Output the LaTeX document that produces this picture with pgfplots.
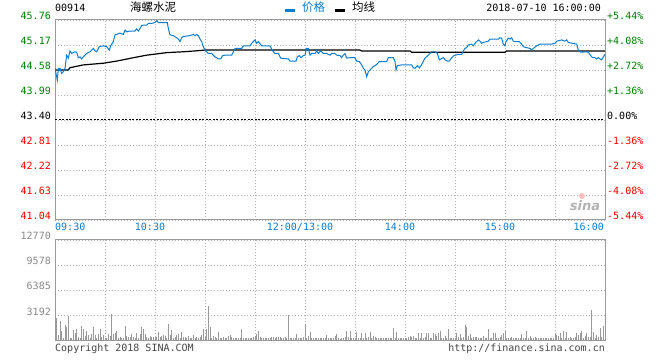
\documentclass[border=0pt]{standalone}
\usepackage{pgfplots}
\pgfplotsset{compat=1.18}
\usepackage{fontspec}
\newfontfamily\mono{DejaVu Sans Mono}
\newfontfamily\cjk{Noto Sans CJK SC}
\newfontfamily\sansb{DejaVu Sans}
\definecolor{sgreen}{HTML}{008000}
\definecolor{sred}{HTML}{FF0000}
\definecolor{sblue}{HTML}{0A7DCF}
\definecolor{gtext}{HTML}{888888}
\definecolor{borderc}{HTML}{9A9A9A}
\definecolor{gridc}{HTML}{B0B0B0}
\definecolor{volc}{HTML}{999999}
\definecolor{foot}{HTML}{444444}
\newcommand{\mf}{\mono\fontsize{10bp}{12bp}\selectfont}
\pgfplotsset{
  sina/.style={
    scale only axis, width=550bp, anchor=south west,
    xmin=0, xmax=330, xtick={30,60,...,300}, xticklabel=\empty,
    major tick length=0pt,
    scaled y ticks=false, scaled x ticks=false,
    grid=major,
    grid style={color=gridc, dash pattern=on 1bp off 2bp, line width=0.8bp},
    axis line style={color=borderc, line width=1bp},
    yticklabel style={font=\mf, anchor=base east, inner sep=0pt, xshift=-4bp},
  }
}
\begin{document}
\begin{tikzpicture}
\path[use as bounding box] (0,0) rectangle (660bp,360bp);

% ---------------- price panel ----------------
\begin{axis}[sina, height=200bp, at={(55bp,140bp)},
  ymin=41.04, ymax=45.76,
  ytick={41.04,41.63,42.22,42.81,43.40,43.99,44.58,45.17,45.76},
  yticklabels={{\textcolor{sred}{41.04}},{\textcolor{sred}{41.63}},{\textcolor{sred}{42.22}},{\textcolor{sred}{42.81}},{\textcolor{black}{43.40}},{\textcolor{sgreen}{43.99}},{\textcolor{sgreen}{44.58}},{\textcolor{sgreen}{45.17}},{\textcolor{sgreen}{45.76}}},
]
\addplot[black, line width=1bp, dash pattern=on 2bp off 1.5bp, forget plot] coordinates {(0,43.40) (330,43.40)};
\addplot[black, line width=1.2bp] coordinates {
(0,44.58) (8,44.58) (9,44.635) (17,44.70) (29,44.74) (37,44.79) (47,44.87) (55,44.93) (67,44.99) (77,45.01) (84,45.03) (90,45.05) (150,45.05)
(165,45.05) (183,45.05) (184,45.03) (213,45.03) (214,45.00) (270,45.00) (271,45.03) (330,45.03)
};
\addplot[sblue, line width=1bp] coordinates {
(0,44.62) (1.4,44.34) (2,44.62) (3,44.62) (4,44.50) (5,44.54) (6,44.62) (7,44.93) (8,44.86) (9,45.03)
(10,44.97) (12,45.01) (13,45.00) (14,44.87) (15,44.89) (16,44.84) (17,44.89) (19,44.97) (21,45.01) (22,45.05)
(23,45.09) (24,45.03) (25,45.01) (26.6,45.13) (29,45.15) (31,45.13) (32.6,45.05) (33.4,45.15) (35,45.25) (36,45.41)
(37,45.42) (39,45.45) (41,45.42) (42,45.52) (43,45.48) (45,45.50) (48,45.50) (49,45.55) (50,45.50) (51,45.56)
(52,45.63) (53,45.64) (55,45.64) (56,45.68) (58,45.68) (60,45.70) (61,45.74) (62,45.70) (65,45.70) (67.4,45.70)
(68,45.56) (69,45.41) (71,45.39) (73,45.34) (74,45.31) (75,45.25) (76,45.34) (77,45.37) (79,45.38) (81,45.39)
(83,45.42) (84,45.39) (85,45.42) (86,45.39) (87,45.31) (88,45.25) (89,45.13) (90,45.05) (92,44.97) (94,44.97)
(96,44.89) (97,44.87) (98,44.84) (99.4,44.84) (100.6,44.92) (102,44.93) (106,44.93) (108,45.09) (112,45.09) (113,45.15)
(117,45.15) (118,45.21) (120,45.29) (121,45.21) (122,45.25) (124,45.15) (129,45.15) (130.6,45.03) (132,44.97) (134,44.97)
(135.4,44.86) (140,44.84) (141,44.79) (144.6,44.79) (145.4,44.89) (146.6,44.92) (147.6,44.87) (149,44.92) (150,44.93) (151,45.09)
(152,45.09) (153,44.93) (154,44.97) (156,44.97) (157,45.03) (158,44.97) (159.4,45.03) (161,44.97) (163,44.97) (165,44.93)
(166,44.97) (168,44.97) (169,44.93) (171,44.92) (172,44.87) (173,44.93) (174,44.97) (175,44.86) (177,44.87) (180,44.87)
(181,44.79) (182.6,44.78) (184,44.70) (185,44.62) (186,44.58) (187,44.42) (188,44.54) (189,44.58) (190,44.62) (191,44.66)
(193,44.71) (194.6,44.78) (199,44.78) (200,44.87) (203,44.87) (204,44.78) (204.6,44.58) (205.4,44.68) (208,44.70) (214,44.70)
(215,44.63) (216,44.62) (217.4,44.68) (218.6,44.63) (220,44.71) (222,44.86) (224,44.93) (226,45.01) (228,45.01) (229.4,44.97)
(230.6,44.82) (233,44.87) (234,44.82) (235.4,44.79) (236.6,44.79) (238,44.87) (239.4,44.92) (242,44.95) (244,44.95) (245,45.03)
(246,45.09) (247,45.11) (248,45.17) (250,45.19) (251,45.15) (252,45.21) (254,45.29) (255,45.26) (256,45.21) (257,45.23)
(260,45.26) (261,45.31) (266,45.31) (267,45.34) (268,45.33) (269,45.19) (270,45.15) (270.6,45.25) (272,45.33) (273,45.31)
(274,45.34) (275,45.26) (276,45.25) (278.6,45.25) (280,45.19) (281,45.13) (282.6,45.11) (285,45.09) (286,45.05) (287,45.09)
(289,45.15) (291,45.19) (298,45.19) (300,45.21) (301,45.26) (304,45.29) (306,45.26) (307,45.29) (308,45.23) (313,45.19)
(314,45.05) (315.4,45.00) (317,45.00) (318,45.01) (320,45.00) (321.4,44.92) (322.6,44.87) (324,44.87) (325,44.84) (326,44.87)
(327,44.84) (328,44.82) (329,44.89) (330,44.95)
};
\end{axis}

% right percentage scale
\begin{axis}[scale only axis, width=550bp, height=200bp, at={(55bp,140bp)}, anchor=south west,
  xmin=0, xmax=330, ymin=-5.44, ymax=5.44,
  axis x line=none, axis y line*=right, axis line style={draw=none},
  major tick length=0pt,
  ytick={-5.44,-4.08,-2.72,-1.36,0,1.36,2.72,4.08,5.44},
  yticklabels={{\textcolor{sred}{-5.44\%}},{\textcolor{sred}{-4.08\%}},{\textcolor{sred}{-2.72\%}},{\textcolor{sred}{-1.36\%}},{\textcolor{black}{0.00\%}},{\textcolor{sgreen}{+1.36\%}},{\textcolor{sgreen}{+2.72\%}},{\textcolor{sgreen}{+4.08\%}},{\textcolor{sgreen}{+5.44\%}}},
  yticklabel style={font=\mf, anchor=base west, inner sep=0pt, xshift=2bp},
]
\addplot[draw=none] coordinates {(0,0)};
\end{axis}

% ---------------- volume panel ----------------
\begin{axis}[sina, height=100bp, at={(55bp,20bp)},
  ymin=0, ymax=12770,
  ytick={3192,6385,9578,12770},
  yticklabels={{\textcolor{gtext}{3192}},{\textcolor{gtext}{6385}},{\textcolor{gtext}{9578}},{\textcolor{gtext}{12770}}},
]
\addplot[ycomb, volc, line width=1bp, mark=none] coordinates {
(0,3193)(1,2767)(2,639)(3,2469)(4,1192)(5,213)(6,1916)(7,1703)(8,3065)(9,213)
(10,298)(11,1277)(12,937)(13,1447)(14,341)(15,213)(16,1788)(17,1447)(18,511)(19,1192)
(20,681)(21,213)(22,724)(23,1618)(24,681)(25,213)(26,766)(27,1362)(28,341)(29,596)
(30,213)(31,255)(32,766)(33,553)(34,3320)(35,766)(36,937)(37,1192)(38,255)(39,426)
(40,255)(41,213)(42,1788)(43,511)(44,341)(45,426)(46,724)(47,426)(48,213)(49,937)
(50,298)(51,766)(52,1660)(53,1447)(54,766)(55,341)(56,213)(57,468)(58,341)(59,426)
(60,426)(61,341)(62,979)(63,426)(64,553)(65,596)(66,553)(67,255)(68,2001)(69,596)
(70,1277)(71,213)(72,426)(73,596)(74,724)(75,213)(76,1064)(77,426)(78,341)(79,213)
(80,511)(81,298)(82,255)(83,596)(84,255)(85,341)(86,213)(87,341)(88,596)(89,1362)
(90,426)(91,1362)(92,4342)(93,1618)(94,255)(95,511)(96,426)(97,298)(98,979)(99,255)
(100,213)(101,341)(102,255)(103,298)(104,468)(105,596)(106,341)(107,255)(108,255)(109,213)
(110,213)(111,213)(112,1405)(113,213)(114,255)(115,213)(116,213)(117,213)(118,298)(119,426)
(120,553)(121,766)(122,1150)(123,341)(124,213)(125,213)(126,255)(127,213)(128,255)(129,298)
(130,341)(131,341)(132,298)(133,341)(134,383)(135,341)(136,255)(137,298)(138,341)(139,213)
(140,3150)(141,213)(142,213)(143,213)(144,213)(145,766)(146,213)(147,213)(148,255)(149,426)
(150,1958)(151,213)(152,553)(153,979)(154,213)(155,213)(156,213)(157,213)(158,213)(159,255)
(160,213)(161,255)(162,213)(163,596)(164,213)(165,255)(166,213)(167,298)(168,511)(169,766)
(170,213)(171,130)(172,213)(173,298)(174,426)(175,1192)(176,341)(177,1192)(178,213)(179,213)
(180,213)(181,1064)(182,213)(183,213)(184,851)(185,298)(186,851)(187,213)(188,341)(189,1064)
(190,213)(191,511)(192,426)(193,213)(194,213)(195,213)(196,213)(197,213)(198,255)(199,213)
(200,213)(201,213)(202,213)(203,1532)(204,213)(205,1064)(206,213)(207,213)(208,213)(209,213)
(210,213)(211,255)(212,426)(213,511)(214,341)(215,511)(216,213)(217,213)(218,851)(219,213)
(220,851)(221,213)(222,341)(223,851)(224,851)(225,213)(226,213)(227,851)(228,766)(229,553)
(230,851)(231,1149)(232,213)(233,213)(234,511)(235,213)(236,1362)(237,213)(238,213)(239,213)
(240,213)(241,851)(242,341)(243,724)(244,213)(245,341)(246,1916)(247,1703)(248,511)(249,766)
(250,298)(251,341)(252,426)(253,341)(254,213)(255,213)(256,213)(257,511)(258,213)(259,298)
(260,1405)(261,298)(262,213)(263,851)(264,851)(265,298)(266,213)(267,341)(268,639)(269,937)
(270,1192)(271,213)(272,213)(273,298)(274,341)(275,213)(276,213)(277,213)(278,298)(279,213)
(280,766)(281,213)(282,213)(283,1192)(284,213)(285,511)(286,213)(287,213)(288,426)(289,298)
(290,213)(291,213)(292,298)(293,213)(294,213)(295,213)(296,213)(297,213)(298,298)(299,213)
(300,724)(301,639)(302,511)(303,937)(304,213)(305,1192)(306,213)(307,1064)(308,213)(309,426)
(310,213)(311,298)(312,426)(313,937)(314,639)(315,851)(316,1192)(317,213)(318,553)(319,851)
(320,426)(321,426)(322,3831)(323,979)(324,213)(325,639)(326,341)(327,1490)(328,426)(329,1788)
(330,1277)
};
\end{axis}

% ---------------- texts ----------------
\begin{scope}[every node/.style={inner sep=0pt}]
% time labels
\node[anchor=base west, text=sblue, font=\mf] at (55bp,129bp) {09:30};
\node[anchor=base, text=sblue, font=\mf] at (150bp,129bp) {10:30};
\node[anchor=base, text=sblue, font=\mf] at (300bp,129bp) {12:00/13:00};
\node[anchor=base, text=sblue, font=\mf] at (400bp,129bp) {14:00};
\node[anchor=base, text=sblue, font=\mf] at (500bp,129bp) {15:00};
\node[anchor=base east, text=sblue, font=\mf] at (604bp,129bp) {16:00};
% header
\node[anchor=base west, font=\mf] at (55bp,348bp) {00914};
\node[anchor=base west, font=\cjk\fontsize{11.5bp}{13bp}\selectfont] at (130bp,348bp) {海螺水泥};
\fill[sblue] (285bp,347.5bp) rectangle (295bp,350.5bp);
\node[anchor=base west, text=sblue, font=\cjk\fontsize{11.5bp}{13bp}\selectfont] at (302bp,348bp) {价格};
\fill[black] (335bp,347.5bp) rectangle (345bp,350.5bp);
\node[anchor=base west, font=\cjk\fontsize{11.5bp}{13bp}\selectfont] at (352bp,348bp) {均线};
\node[anchor=base east, font=\mf] at (601bp,348bp) {2018-07-10 16:00:00};
% footer
\node[anchor=base west, text=foot, font=\mf] at (55bp,9bp) {Copyright 2018 SINA.COM};
\node[anchor=base east, text=foot, font=\mf] at (605bp,9bp) {http://finance.sina.com.cn};
% watermark
\node[anchor=base, text=black!30, font=\sansb\bfseries\itshape\fontsize{13bp}{14bp}\selectfont] at (585bp,149bp) {sina};
\fill[red!25] (582bp,164bp) circle (3bp);
\end{scope}
\end{tikzpicture}
\end{document}
